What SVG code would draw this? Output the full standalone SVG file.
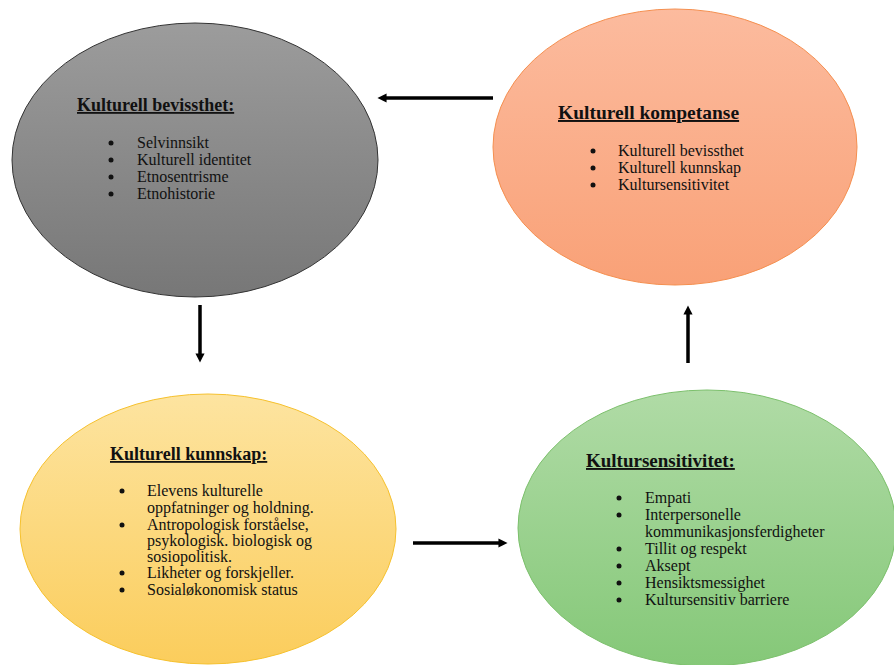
<svg xmlns="http://www.w3.org/2000/svg" width="894" height="665" viewBox="0 0 894 665">
<defs>
<linearGradient id="gGrey" x1="0" y1="0" x2="0" y2="1"><stop offset="0" stop-color="#9c9c9c"/><stop offset="1" stop-color="#777777"/></linearGradient>
<linearGradient id="gOrange" x1="0" y1="0" x2="0" y2="1"><stop offset="0" stop-color="#fcbb9e"/><stop offset="1" stop-color="#f9a177"/></linearGradient>
<linearGradient id="gYellow" x1="0" y1="0" x2="0" y2="1"><stop offset="0" stop-color="#fde4a0"/><stop offset="1" stop-color="#fbcd5c"/></linearGradient>
<linearGradient id="gGreen" x1="0" y1="0" x2="0" y2="1"><stop offset="0" stop-color="#b0dba6"/><stop offset="1" stop-color="#85c878"/></linearGradient>
<marker id="ah" viewBox="0 0 10 10" refX="5" refY="5" markerWidth="2.6" markerHeight="2.6" orient="auto"><path d="M0,0 L10,5 L0,10 z" fill="#000"/></marker>
<style>
.title{font-family:"Liberation Serif","Times New Roman",serif;font-weight:bold;text-decoration:underline;fill:#111}
.item{font-family:"Liberation Serif","Times New Roman",serif;font-size:16px;fill:#111}
.bullet{fill:#111}
.conn{stroke:#000;stroke-width:3.5;fill:none;marker-end:url(#ah)}
</style>
</defs>
<g id="node-bevissthet">
<ellipse cx="195" cy="160" rx="183" ry="137" fill="url(#gGrey)" stroke="#333" stroke-width="1"/>
<text class="title" x="77" y="111" font-size="18">Kulturell bevissthet:</text>
<g class="bullet"><circle cx="111" cy="143" r="2.5"/><circle cx="111" cy="160" r="2.5"/><circle cx="111" cy="177" r="2.5"/><circle cx="111" cy="194" r="2.5"/></g>
<text class="item" x="137" y="148">Selvinnsikt</text>
<text class="item" x="137" y="165">Kulturell identitet</text>
<text class="item" x="137" y="182">Etnosentrisme</text>
<text class="item" x="137" y="199">Etnohistorie</text>
</g>
<g id="node-kompetanse">
<ellipse cx="675" cy="147" rx="182" ry="138" fill="url(#gOrange)" stroke="#f58f4f" stroke-width="1"/>
<text class="title" x="558" y="119" font-size="19.5">Kulturell kompetanse</text>
<g class="bullet"><circle cx="593" cy="151" r="2.5"/><circle cx="593" cy="168" r="2.5"/><circle cx="593" cy="185" r="2.5"/></g>
<text class="item" x="618" y="156">Kulturell bevissthet</text>
<text class="item" x="618" y="173">Kulturell kunnskap</text>
<text class="item" x="618" y="190">Kultursensitivitet</text>
</g>
<g id="node-kunnskap">
<ellipse cx="208" cy="529" rx="188" ry="135" fill="url(#gYellow)" stroke="#f6c12e" stroke-width="1"/>
<text class="title" x="110" y="460" font-size="18">Kulturell kunnskap:</text>
<g class="bullet"><circle cx="122" cy="491" r="2.5"/><circle cx="122" cy="525" r="2.5"/><circle cx="122" cy="573" r="2.5"/><circle cx="122" cy="590" r="2.5"/></g>
<text class="item" x="147" y="496">Elevens kulturelle</text>
<text class="item" x="147" y="513">oppfatninger og holdning.</text>
<text class="item" x="147" y="530">Antropologisk forståelse,</text>
<text class="item" x="147" y="546">psykologisk. biologisk og</text>
<text class="item" x="147" y="562">sosiopolitisk.</text>
<text class="item" x="147" y="578">Likheter og forskjeller.</text>
<text class="item" x="147" y="595">Sosialøkonomisk status</text>
</g>
<g id="node-kultursensitivitet">
<ellipse cx="707" cy="528" rx="189" ry="138" fill="url(#gGreen)" stroke="#7cc06c" stroke-width="1"/>
<text class="title" x="586" y="467" font-size="19">Kultursensitivitet:</text>
<g class="bullet"><circle cx="619" cy="498" r="2.5"/><circle cx="619" cy="515" r="2.5"/><circle cx="619" cy="549" r="2.5"/><circle cx="619" cy="566" r="2.5"/><circle cx="619" cy="583" r="2.5"/><circle cx="619" cy="600" r="2.5"/></g>
<text class="item" x="645" y="503">Empati</text>
<text class="item" x="645" y="520">Interpersonelle</text>
<text class="item" x="645" y="537">kommunikasjonsferdigheter</text>
<text class="item" x="645" y="554">Tillit og respekt</text>
<text class="item" x="645" y="571">Aksept</text>
<text class="item" x="645" y="588">Hensiktsmessighet</text>
<text class="item" x="645" y="605">Kultursensitiv barriere</text>
</g>
<g id="connectors">
<line class="conn" x1="493" y1="98" x2="382" y2="98"/>
<line class="conn" x1="200" y1="305" x2="200" y2="358"/>
<line class="conn" x1="413" y1="543" x2="503" y2="543"/>
<line class="conn" x1="688" y1="363" x2="688" y2="310"/>
</g>
</svg>
